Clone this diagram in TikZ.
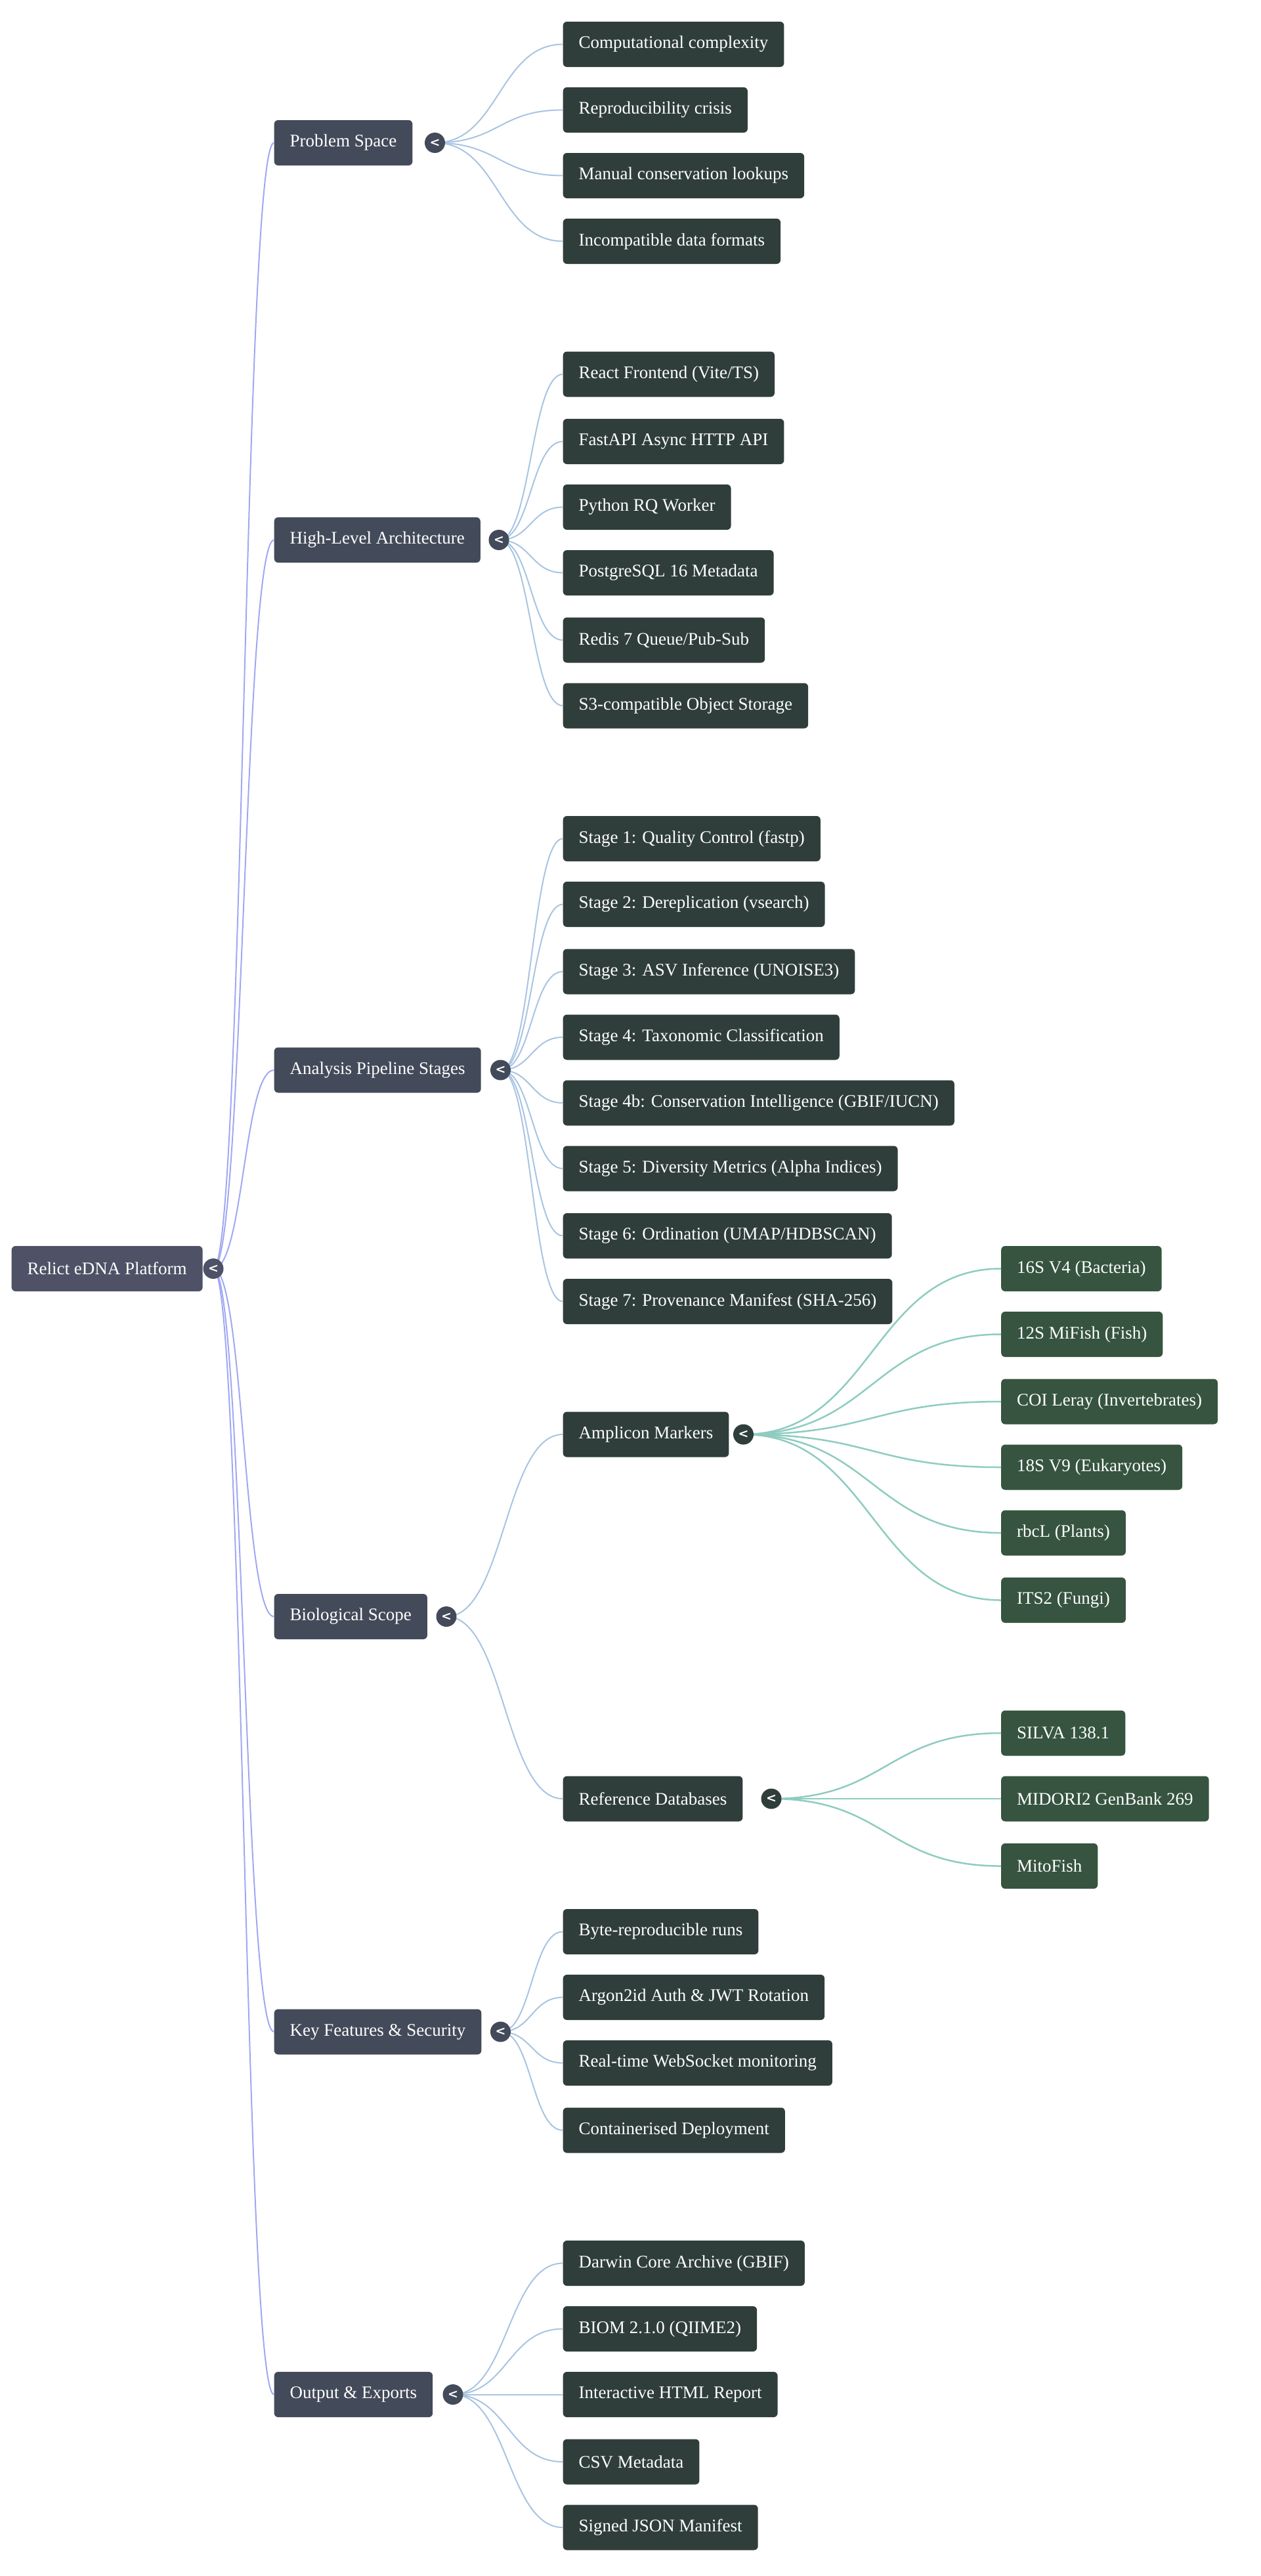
\documentclass[tikz,border=0pt]{standalone}
\usetikzlibrary{calc}
\usepackage{fontspec}
\setmainfont{Liberation Serif}
\newfontfamily\tglfont{DejaVu Sans}
\begin{document}
\begin{tikzpicture}[x=2.5pt,y=-2.5pt,
  box/.style={anchor=west,text=white,rounded corners=6pt,inner xsep=24pt,minimum height=69pt,font=\fontsize{27}{32}\selectfont},
  root/.style={box,fill=rootc},
  lone/.style={box,fill=onec},
  ltwo/.style={box,fill=twoc},
  lthree/.style={box,fill=threec},
  tog/.style={circle,minimum size=31pt,inner sep=0pt,text=white,font=\tglfont\fontsize{19}{19}\selectfont\bfseries},
  eroot/.style={draw=rootedge,line width=2pt},
  eone/.style={draw=oneedge,line width=2pt},
  etwo/.style={draw=twoedge,line width=2.5pt},
]
\definecolor{rootc}{HTML}{4F5266}
\definecolor{onec}{HTML}{434A59}
\definecolor{twoc}{HTML}{2F3E3B}
\definecolor{threec}{HTML}{36543F}
\definecolor{rootedge}{HTML}{A0A8F2}
\definecolor{oneedge}{HTML}{A8C4E2}
\definecolor{twoedge}{HTML}{8ECCC0}
\useasboundingbox (0,0) rectangle (768,1569.6);
% root
\node[root] (root) at (7,773) {Relict eDNA Platform};
\coordinate (rt) at (130,773);
% level 1
\node[lone] (p) at (167,87) {Problem Space};
\node[lone] (a) at (167,329) {High-Level Architecture};
\node[lone] (s) at (167,652) {Analysis Pipeline Stages};
\node[lone] (b) at (167,985) {Biological Scope};
\node[lone] (k) at (167,1238) {Key Features \& Security};
\node[lone] (o) at (167,1459) {Output \& Exports};
\foreach \n/\x in {p/265,a/304,s/305,b/272,k/305,o/276}{\coordinate (t\n) at (\x,0 |- \n);}
\foreach \n in {p,a,s,b,k,o}{\draw[eroot] (rt) .. controls ($(rt)!0.5!(\n.west |- rt)$) and ($(\n.west)!0.5!(rt |- \n.west)$) .. (\n.west);}
% level 2
\foreach \pn/\lst in {p/{0/27/{Computational complexity},1/67/{Reproducibility crisis},2/107/{Manual conservation lookups},3/147/{Incompatible data formats}},
  a/{0/228/{React Frontend (Vite/TS)},1/269/{FastAPI Async HTTP API},2/309/{Python RQ Worker},3/349/{PostgreSQL 16 Metadata},4/390/{Redis 7 Queue/Pub-Sub},5/430/{S3-compatible Object Storage}},
  s/{0/511/{Stage 1: Quality Control (fastp)},1/551/{Stage 2: Dereplication (vsearch)},2/592/{Stage 3: ASV Inference (UNOISE3)},3/632/{Stage 4: Taxonomic Classification},4/672/{Stage 4b: Conservation Intelligence (GBIF/IUCN)},5/712/{Stage 5: Diversity Metrics (Alpha Indices)},6/753/{Stage 6: Ordination (UMAP/HDBSCAN)},7/793/{Stage 7: Provenance Manifest (SHA-256)}},
  b/{0/874/{Amplicon Markers},1/1096/{Reference Databases}},
  k/{0/1177/{Byte-reproducible runs},1/1217/{Argon2id Auth \& JWT Rotation},2/1257/{Real-time WebSocket monitoring},3/1298/{Containerised Deployment}},
  o/{0/1379/{Darwin Core Archive (GBIF)},1/1419/{BIOM 2.1.0 (QIIME2)},2/1459/{Interactive HTML Report},3/1500/{CSV Metadata},4/1540/{Signed JSON Manifest}}}{
  \foreach \i/\yy/\txt in \lst {
    \node[ltwo] (\pn\i) at (343,\yy) {\txt};
    \draw[eone] (t\pn) .. controls ($(t\pn)!0.5!(\pn\i.west |- t\pn)$) and ($(\pn\i.west)!0.5!(t\pn |- \pn\i.west)$) .. (\pn\i.west);
  }
}
% level 3
\coordinate (tb0) at (453,874);
\coordinate (tb1) at (470,1096);
\foreach \pn/\lst in {b0/{0/773/{16S V4 (Bacteria)},1/813/{12S MiFish (Fish)},2/854/{COI Leray (Invertebrates)},3/894/{18S V9 (Eukaryotes)},4/934/{rbcL (Plants)},5/975/{ITS2 (Fungi)}},
  b1/{0/1056/{SILVA 138.1},1/1096/{MIDORI2 GenBank 269},2/1137/{MitoFish}}}{
  \foreach \i/\yy/\txt in \lst {
    \node[lthree] (\pn\i) at (610,\yy) {\txt};
    \draw[etwo] (t\pn) .. controls ($(t\pn)!0.5!(\pn\i.west |- t\pn)$) and ($(\pn\i.west)!0.5!(t\pn |- \pn\i.west)$) .. (\pn\i.west);
  }
}
% toggles
\node[tog,fill=rootc] (rtg) at (rt) {<};
\foreach \n in {p,a,s,b,k,o}{\node[tog,fill=onec] (g\n) at (t\n) {<};}
\node[tog,fill=twoc] (gb0) at (tb0) {<};
\node[tog,fill=twoc] (gb1) at (tb1) {<};
\end{tikzpicture}
\end{document}
